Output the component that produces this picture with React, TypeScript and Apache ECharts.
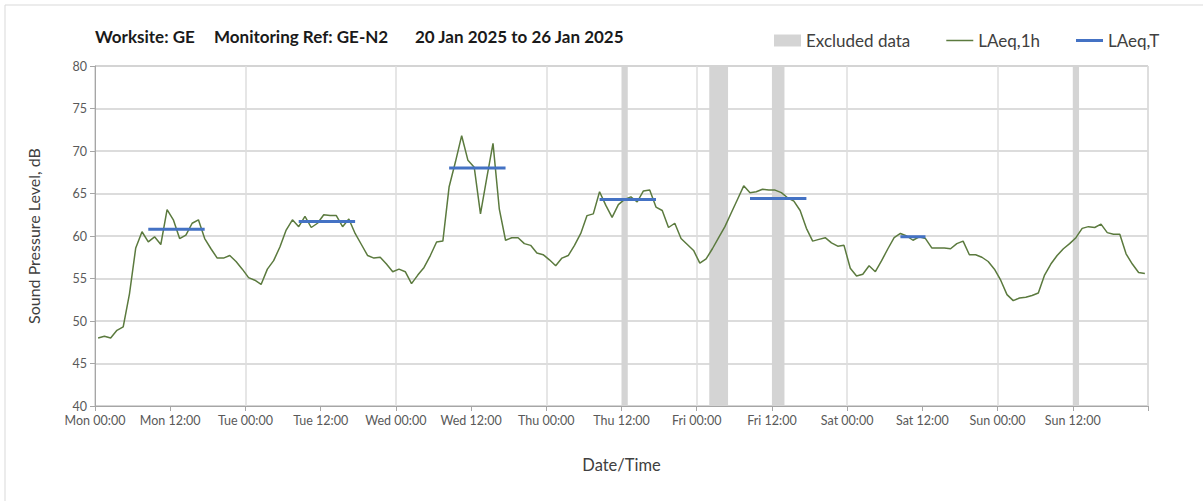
import React, { useEffect, useRef } from "react";
import * as echarts from "echarts";

// ---- DATA ----
const TITLE_PARTS = ["Worksite: GE", "Monitoring Ref: GE-N2", "20 Jan 2025 to 26 Jan 2025"];

// Tick labels every 12 hours from Mon 00:00 (the final tick at 168h is unlabelled)
const TICK_LABELS = [
  "Mon 00:00", "Mon 12:00", "Tue 00:00", "Tue 12:00", "Wed 00:00", "Wed 12:00",
  "Thu 00:00", "Thu 12:00", "Fri 00:00", "Fri 12:00", "Sat 00:00", "Sat 12:00",
  "Sun 00:00", "Sun 12:00", "",
];

// Hourly LAeq,1h (dB), hour 0 = Mon 00:00-01:00
const LAEQ_1H = [
  48.0, 48.2, 48.0, 48.9, 49.3, 53.2, 58.6, 60.5, 59.3, 59.9,
  59.0, 63.1, 61.9, 59.7, 60.1, 61.5, 61.9, 59.7, 58.5, 57.4,
  57.4, 57.7, 57.0, 56.1, 55.1, 54.8, 54.3, 56.1, 57.1, 58.7,
  60.7, 61.9, 61.1, 62.3, 61.0, 61.5, 62.5, 62.4, 62.4, 61.1,
  62.0, 60.3, 59.0, 57.7, 57.4, 57.5, 56.7, 55.8, 56.1, 55.8,
  54.4, 55.4, 56.3, 57.7, 59.3, 59.4, 65.8, 68.7, 71.8, 68.9,
  68.1, 62.6, 66.8, 70.9, 63.2, 59.5, 59.8, 59.8, 59.1, 58.9,
  58.0, 57.8, 57.2, 56.5, 57.4, 57.7, 58.9, 60.3, 62.4, 62.6,
  65.2, 63.6, 62.2, 63.7, 64.3, 64.6, 64.0, 65.3, 65.4, 63.4,
  63.0, 61.0, 61.5, 59.7, 59.0, 58.3, 56.8, 57.3, 58.5, 59.8,
  61.1, 62.7, 64.3, 65.9, 65.1, 65.2, 65.5, 65.4, 65.4, 65.1,
  64.5, 64.1, 63.0, 60.9, 59.4, 59.6, 59.8, 59.2, 58.8, 58.9,
  56.2, 55.3, 55.5, 56.5, 55.8, 57.1, 58.5, 59.8, 60.3, 60.0,
  59.5, 59.9, 59.7, 58.6, 58.6, 58.6, 58.5, 59.1, 59.4, 57.8,
  57.8, 57.5, 57.0, 56.1, 54.8, 53.1, 52.4, 52.7, 52.8, 53.0,
  53.3, 55.4, 56.7, 57.7, 58.5, 59.1, 59.8, 60.9, 61.1, 61.0,
  61.4, 60.4, 60.2, 60.2, 57.9, 56.7, 55.7, 55.6,
];

// LAeq,T periods (hours from Mon 00:00) and values
const LAEQ_T_START = [8.5, 32.5, 56.5, 80.5, 104.5, 128.5];
const LAEQ_T_END = [17.5, 41.5, 65.5, 89.5, 113.5, 132.5];
const LAEQ_T_VALUES = [60.8, 61.7, 68.0, 64.3, 64.4, 59.9];

// Excluded data periods (hours from Mon 00:00)
const EXCLUDED_START = [84, 98, 108, 156];
const EXCLUDED_END = [85, 101, 110, 157];

const FONT = "Lato, 'Noto Sans', 'Liberation Sans', sans-serif";
const GREEN = "#5b7a3e";
const BLUE = "#4472c4";
const GREY = "#d4d4d4";

export default function App() {
  const ref = useRef<HTMLDivElement>(null);

  useEffect(() => {
    if (!ref.current) return;
    const chart = echarts.init(ref.current, undefined, { renderer: "svg" });

    const lineData = LAEQ_1H.map((v, i) => [i + 0.5, v]);
    const tData: any[] = [];
    LAEQ_T_VALUES.forEach((v, i) => {
      if (i > 0) tData.push("-");
      tData.push([LAEQ_T_START[i], v]);
      tData.push([LAEQ_T_END[i], v]);
    });
    const excludedAreas = EXCLUDED_START.map((s, i) => [{ xAxis: s }, { xAxis: EXCLUDED_END[i] }]);

    const titleText = (text: string, x: number) => ({
      type: "text",
      x,
      y: 36,
      style: {
        text,
        font: `bold 17px ${FONT}`,
        fill: "#1a1a1a",
        textVerticalAlign: "middle",
      },
    });

    const option: any = {
      animation: false,
      backgroundColor: "#ffffff",
      textStyle: { fontFamily: FONT },
      grid: {
        left: 95,
        right: 55,
        top: 66,
        bottom: 95,
        show: true,
        borderColor: "#bfbfbf",
        borderWidth: 1,
        backgroundColor: "transparent",
      },
      legend: {
        left: 774,
        top: 32,
        padding: 0,
        itemWidth: 27,
        itemHeight: 12,
        itemGap: 36,
        symbolKeepAspect: true,
        textStyle: { fontSize: 17, color: "#404040", fontFamily: FONT },
        data: [
          { name: "Excluded data", icon: "rect" },
          { name: "LAeq,1h", icon: "path://M0,0 L54,0 L54,3 L0,3 Z" },
          { name: "LAeq,T", icon: "path://M0,0 L27,0 L27,3 L0,3 Z" },
        ],
      },
      xAxis: {
        type: "value",
        min: 0,
        max: 168,
        interval: 12,
        name: "Date/Time",
        nameLocation: "middle",
        nameGap: 50,
        nameTextStyle: { fontSize: 16.5, color: "#404040", fontFamily: FONT },
        axisLine: { show: true, lineStyle: { color: "#a6a6a6", width: 1 } },
        axisTick: { show: true, length: 5, lineStyle: { color: "#a6a6a6" } },
        axisLabel: {
          fontSize: 12.5,
          color: "#595959",
          margin: 8,
          fontFamily: FONT,
          formatter: (v: number) => TICK_LABELS[Math.round(v / 12)] ?? "",
        },
        splitLine: {
          show: true,
          lineStyle: { color: ["#dedede", "rgba(0,0,0,0)"], width: 1.5 },
        },
      },
      yAxis: {
        type: "value",
        min: 40,
        max: 80,
        interval: 5,
        name: "Sound Pressure Level, dB",
        nameLocation: "middle",
        nameGap: 54,
        nameTextStyle: { fontSize: 16, color: "#404040", fontFamily: FONT },
        axisLine: { show: true, lineStyle: { color: "#a6a6a6", width: 1 } },
        axisTick: { show: true, length: 5, lineStyle: { color: "#a6a6a6" } },
        axisLabel: { fontSize: 12.5, color: "#595959", margin: 8, fontFamily: FONT },
        splitLine: { show: true, lineStyle: { color: "#d0d0d0", width: 1.5 } },
      },
      series: [
        {
          name: "Excluded data",
          type: "line",
          data: [],
          z: 1,
          symbol: "none",
          itemStyle: { color: GREY },
          lineStyle: { color: GREY },
          markArea: {
            silent: true,
            itemStyle: { color: GREY },
            data: excludedAreas,
          },
        },
        {
          name: "LAeq,1h",
          type: "line",
          data: lineData,
          z: 3,
          symbol: "none",
          showSymbol: false,
          itemStyle: { color: GREEN },
          lineStyle: { color: GREEN, width: 1.5 },
        },
        {
          name: "LAeq,T",
          type: "line",
          data: tData,
          z: 4,
          symbol: "none",
          showSymbol: false,
          connectNulls: false,
          itemStyle: { color: BLUE },
          lineStyle: { color: BLUE, width: 3 },
        },
      ],
      graphic: [
        {
          type: "rect",
          silent: true,
          shape: { x: 5, y: 5, width: 1300, height: 600 },
          style: { fill: "none", stroke: "#d9d9d9", lineWidth: 1 },
        },
        titleText(TITLE_PARTS[0], 95),
        titleText(TITLE_PARTS[1], 214),
        titleText(TITLE_PARTS[2], 415),
      ],
    };

    chart.setOption(option);
    return () => chart.dispose();
  }, []);

  return (
    <div
      ref={ref}
      style={{ position: "fixed", left: 0, top: 0, width: 1203, height: 501 }}
    />
  );
}
